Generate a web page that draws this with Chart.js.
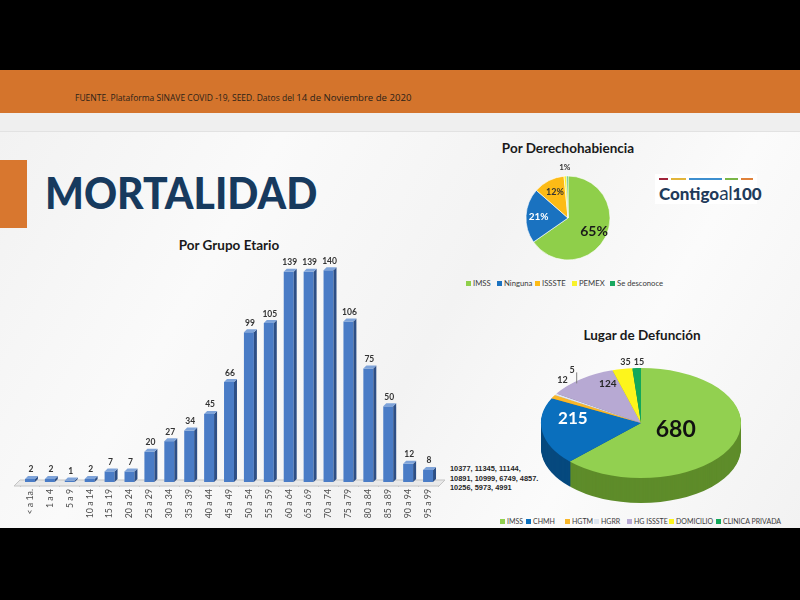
<!DOCTYPE html>
<html><head><meta charset="utf-8">
<script src="https://cdn.jsdelivr.net/npm/chart.js@4"></script>
<style>
html,body{margin:0;padding:0;width:800px;height:600px;background:#000;overflow:hidden;font-family:Lato,"Open Sans",sans-serif;}
#slide{position:absolute;left:0;top:70px;width:800px;height:458px;background:linear-gradient(120deg,#f1f1f1 0%,#fafafa 30%,#f3f3f3 55%,#fbfbfb 75%,#f2f2f2 100%);overflow:hidden;}
#band{position:absolute;left:0;top:0;width:800px;height:43px;background:#d4742c;}
#src{position:absolute;left:75px;top:21px;font-family:"Open Sans",sans-serif;font-size:8.5px;color:#2b2218;white-space:nowrap;}
#src span{font-size:9.6px;}
#strip{position:absolute;left:0;top:43px;width:800px;height:18px;background:#efefef;border-bottom:1px solid #e2e2e2;}
#accent{position:absolute;left:0;top:90px;width:27px;height:68px;background:#d8772f;}
#title{position:absolute;left:45px;top:96px;font-family:Lato,sans-serif;font-weight:900;font-size:44px;color:#173a5e;white-space:nowrap;transform:scaleX(0.93);transform-origin:0 0;}
.ttl{position:absolute;font-family:Lato,sans-serif;font-weight:700;font-size:13.5px;color:#1a1a1a;white-space:nowrap;transform:translateX(-50%);}
canvas{position:absolute;}
.leg{position:absolute;font-family:Lato,sans-serif;color:#3a3a3a;white-space:nowrap;}
.leg i{display:inline-block;width:5px;height:5px;margin-right:2px;vertical-align:0px;}
#logo{position:absolute;left:655px;top:104px;width:102px;height:30px;background:#fff;}
#logo .bar{position:absolute;top:4px;height:2px;}
#logo .txt{position:absolute;left:4px;top:7px;font-family:Lato,sans-serif;color:#1f3b5b;font-size:17px;white-space:nowrap;}
#note{position:absolute;left:450px;top:394px;font-family:"Liberation Sans",Arial,sans-serif;font-weight:700;font-size:7.4px;line-height:9.6px;color:#262626;white-space:nowrap;}
</style></head>
<body>
<div id="slide">
  <div id="band"><div id="src">FUENTE. Plataforma SINAVE COVID -19, SEED. Datos del <span>14 de Noviembre de 2020</span></div></div>
  <div id="strip"></div>
  <div id="accent"></div>
  <div id="title">MORTALIDAD</div>
  <div class="ttl" style="left:229px;top:167px;">Por Grupo Etario</div>
  <div class="ttl" style="left:568px;top:70px;">Por Derechohabiencia</div>
  <div class="ttl" style="left:642px;top:257px;">Lugar de Defunción</div>
  <div id="logo">
    <div class="bar" style="left:4px;width:9px;background:#a1243a"></div>
    <div class="bar" style="left:16px;width:15px;background:#e2b53a"></div>
    <div class="bar" style="left:34px;width:33px;background:#3d8fcf"></div>
    <div class="bar" style="left:70px;width:13px;background:#7ab648"></div>
    <div class="bar" style="left:86px;width:12px;background:#e0823a"></div>
    <div class="txt"><b style="font-weight:900">Contigo</b><span style="font-weight:400;font-size:19px;letter-spacing:-0.5px;">al</span><b style="font-weight:900">100</b></div>
  </div>
  <div id="note">10377, 11345, 11144,<br>10891, 10999, 6749, 4857.<br>10256, 5973, 4991</div>
  <div id="leg1"></div>
  <div id="leg2"></div>
</div>
<canvas id="bars" style="left:0;top:240px;width:445px;height:288px;"></canvas>
<canvas id="pie1" style="left:498px;top:148px;width:140px;height:140px;"></canvas>
<canvas id="pie2" style="left:511px;top:303px;width:260px;height:240px;"></canvas>
<script>
// ---------- DATA ----------
const ageLabels = ['< a 1a.','1 a 4','5 a 9','10 a 14','15 a 19','20 a 24','25 a 29','30 a 34','35 a 39','40 a 44','45 a 49','50 a 54','55 a 59','60 a 64','65 a 69','70 a 74','75 a 79','80 a 84','85 a 89','90 a 94','95 a 99'];
const ageDeaths = [2,2,1,2,7,7,20,27,34,45,66,99,105,139,139,140,106,75,50,12,8];

const derechoLabels = ['IMSS','Ninguna','ISSSTE','PEMEX','Se desconoce'];
const derechoPct = [65,21,12,1,0.5];
const derechoText = ['65%','21%','12%','1%',''];

const lugarLabels = ['IMSS','CHMH','HGTM','HGRR','HG ISSSTE','DOMICILIO','CLINICA PRIVADA'];
const lugarDeaths = [680,215,12,5,124,35,15];

const yTicksMax = 150;

// ---------- STYLES ----------
const derechoColors = ['#8fcf4a','#1a72c0','#fdbb16','#f8f22a','#1aa860'];
const lugarColors = ['#92d050','#0a6fbd','#f8b72a','#dfe6f0','#b7a9d3','#fdf51c','#12a85a'];
const lugarSide = ['#5e8c2a','#06497e','#b07e14','#a9b0bb','#7f7397','#b0aa10','#0b7440'];

// legends (HTML, generated from the arrays)
function makeLegend(id, labels, colors, xs, top, size){
  const el = document.getElementById(id);
  labels.forEach((l,i)=>{
    const d = document.createElement('div');
    d.className='leg';
    d.style.left = xs[i]+'px'; d.style.top = top+'px'; d.style.fontSize = size+'px';
    d.innerHTML = '<i style="background:'+colors[i]+'"></i>'+l;
    el.appendChild(d);
  });
}
makeLegend('leg1', derechoLabels, derechoColors, [466,497,535,572,610], 208, 7.7);
makeLegend('leg2', lugarLabels, lugarColors, [500,526,565,594,627,669,716], 447, 7.0);

// ---------- BAR CHART ----------
const bar3d = {
  id:'bar3d',
  beforeDatasetsDraw(chart){
    const {ctx, chartArea:a} = chart;
    ctx.save();
    ctx.fillStyle='#e9e9e9'; ctx.strokeStyle='#c4c4c4'; ctx.lineWidth=1;
    ctx.beginPath();
    ctx.moveTo(a.left-6, a.bottom+4); ctx.lineTo(a.right+1, a.bottom+4);
    ctx.lineTo(a.right+7, a.bottom-2); ctx.lineTo(a.left, a.bottom-2); ctx.closePath();
    ctx.fill(); ctx.stroke();
    ctx.restore();
  },
  afterDatasetsDraw(chart){
    const {ctx} = chart;
    const meta = chart.getDatasetMeta(0);
    const d = 3;
    ctx.save();
    meta.data.forEach((b,i)=>{
      const l = b.x - b.width/2, r = b.x + b.width/2, t = b.y, bs = b.base;
      ctx.fillStyle='#2d4f86';
      ctx.beginPath(); ctx.moveTo(r,t); ctx.lineTo(r+d,t-d); ctx.lineTo(r+d,bs-d); ctx.lineTo(r,bs); ctx.closePath(); ctx.fill();
      ctx.fillStyle='#7ea3d9';
      ctx.beginPath(); ctx.moveTo(l,t); ctx.lineTo(l+d,t-d); ctx.lineTo(r+d,t-d); ctx.lineTo(r,t); ctx.closePath(); ctx.fill();
      ctx.fillStyle='#333';
      ctx.font='bold 8.5px Lato, sans-serif';
      ctx.textAlign='center'; ctx.textBaseline='bottom';
      ctx.fillText(String(ageDeaths[i]), b.x+1, t-5);
    });
    ctx.restore();
  }
};

new Chart(document.getElementById('bars'), {
  type:'bar',
  data:{labels:ageLabels, datasets:[{data:ageDeaths, backgroundColor:'#4a7cc6', borderWidth:0, barPercentage:0.5, categoryPercentage:1}]},
  options:{
    responsive:false, animation:false, devicePixelRatio:1,
    layout:{padding:{left:20,right:7,top:15,bottom:0}},
    plugins:{legend:{display:false}, tooltip:{enabled:false}},
    scales:{
      y:{display:false, min:0, max:yTicksMax},
      x:{
        border:{display:false},
        grid:{display:true, drawOnChartArea:false, drawTicks:true, tickLength:5, color:'#c8c8c8', offset:true},
        ticks:{minRotation:90, maxRotation:90, autoSkip:false, color:'#4d4d4d', font:{family:'Lato', size:8.8}, padding:2},
        afterFit(s){ s.height = 46; }
      }
    }
  },
  plugins:[bar3d]
});

// ---------- PIE LABEL PLUGIN ----------
const pieLabels = {
  id:'pieLabels',
  afterDraw(chart, args, o){
    const {ctx} = chart;
    const meta = chart.getDatasetMeta(0);
    ctx.save();
    meta.data.forEach((arc,i)=>{
      const txt = o.texts[i]; if(!txt) return;
      const a = (arc.startAngle + arc.endAngle)/2;
      const r = arc.outerRadius * o.frac[i];
      const x = arc.x + Math.cos(a)*r + (o.dx ? o.dx[i] : 0);
      const y = arc.y + Math.sin(a)*r*(o.tilt||1) + (o.dy ? o.dy[i] : 0);
      ctx.font = 'bold '+o.size[i]+'px Lato, sans-serif';
      ctx.fillStyle = o.color[i];
      ctx.textAlign='center'; ctx.textBaseline='middle';
      ctx.fillText(txt, x, y);
      if (o.leader && o.leader[i]) {
        ctx.strokeStyle='#7f7f7f'; ctx.lineWidth=1;
        ctx.beginPath(); ctx.moveTo(x+4.5, y+2); ctx.lineTo(x+4.5, y+o.leader[i]); ctx.stroke();
      }
    });
    ctx.restore();
  }
};

// ---------- PIE 1 ----------
new Chart(document.getElementById('pie1'), {
  type:'pie',
  data:{labels:derechoLabels, datasets:[{data:derechoPct, backgroundColor:derechoColors, borderColor:'#ffffff', borderWidth:0.6, radius:42}]},
  options:{
    responsive:false, animation:false, devicePixelRatio:1,
    plugins:{legend:{display:false}, tooltip:{enabled:false},
      pieLabels:{texts:derechoText, frac:[0.7,0.7,0.68,1.2,1], size:[14,10,9,8,8], color:['#1a1a1a','#ffffff','#333333','#333333','#333']}}
  },
  plugins:[pieLabels]
});

// ---------- PIE 2 (3D) ----------
const pie3d = {
  id:'pie3d',
  beforeDatasetsDraw(chart, args, o){
    const ctx = chart.ctx;
    const meta = chart.getDatasetMeta(0);
    const cx = meta.data[0].x, cy = meta.data[0].y;
    for(let d=o.depth; d>0; d--){
      meta.data.forEach((arc,i)=>{
        ctx.save();
        ctx.translate(cx, cy+d); ctx.scale(1, o.tilt);
        ctx.beginPath(); ctx.moveTo(0,0);
        ctx.arc(0,0,arc.outerRadius, arc.startAngle, arc.endAngle);
        ctx.closePath();
        ctx.fillStyle = o.side[i]; ctx.fill();
        ctx.restore();
      });
    }
    ctx.save();
    ctx.translate(cx, cy); ctx.scale(1, o.tilt); ctx.translate(-cx, -cy);
  },
  afterDatasetsDraw(chart){ chart.ctx.restore(); }
};

new Chart(document.getElementById('pie2'), {
  type:'pie',
  data:{labels:lugarLabels, datasets:[{data:lugarDeaths, backgroundColor:lugarColors, borderWidth:0, radius:100, clip:false}]},
  options:{
    responsive:false, animation:false, devicePixelRatio:1,
    plugins:{legend:{display:false}, tooltip:{enabled:false},
      pie3d:{depth:25, tilt:0.55, side:lugarSide},
      pieLabels:{texts:lugarDeaths.map(String), tilt:0.55,
        frac:[0.42,0.7,1.1,1.1,0.6,1.15,1.15],
        dx:[-4,1,18,25,3,6,3], dy:[-2,-10,-14,-21,-13,1,2],
        size:[23,17,9,9,10,9,9],
        color:['#111111','#ffffff','#333333','#333333','#262626','#333333','#333333'],
        leader:[0,0,0,13,0,0,0]}
    }
  },
  plugins:[pie3d, pieLabels]
});
</script>
</body></html>
